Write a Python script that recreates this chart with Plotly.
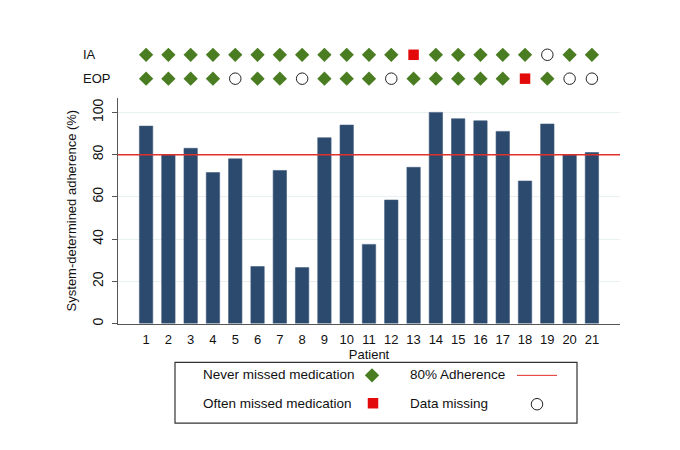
import plotly.graph_objects as go

# ---- data ----
patients = list(range(1, 22))
adherence = [93.5, 80, 83, 71.5, 78, 27, 72.5, 26.5, 88, 94, 37.5, 58.5, 74, 100,
             97, 96, 91, 67.5, 94.5, 80, 81]
threshold = 80
# N = never missed medication, O = often missed medication, M = data missing
ia_status = ["N"] * 12 + ["O"] + ["N"] * 5 + ["M"] + ["N"] * 2
eop_status = ["N", "N", "N", "N", "M", "N", "N", "M", "N", "N", "N", "M",
              "N", "N", "N", "N", "N", "O", "N", "M", "M"]
rows = ["EOP", "IA"]
x_ticks = patients
y_ticks = [0, 20, 40, 60, 80, 100]

W, H = 680, 450
OFF = 8  # page body margin
FONT = "Liberation Sans, Arial, sans-serif"
BAR = "#2c4a6e"
GREEN = "#4a7d22"
RED = "#e20a0a"
LINE_RED = "#e0302c"


def px(x):
    return (x - OFF) / W


def py(y):
    return 1 - (y - OFF) / H


fig = go.Figure()

# bars
fig.add_trace(go.Bar(x=patients, y=adherence, width=0.6,
                     marker=dict(color=BAR, line=dict(color="#3e5a7c", width=0.6)),
                     xaxis="x", yaxis="y", showlegend=False))

# threshold line
fig.add_trace(go.Scatter(x=[-0.26, 22.26], y=[threshold, threshold], mode="lines",
                         line=dict(color=LINE_RED, width=1.5),
                         xaxis="x", yaxis="y", showlegend=False))

# status rows
styles = {
    "N": dict(symbol="diamond", size=11, color=GREEN, line=dict(width=0)),
    "O": dict(symbol="square", size=10.5, color=RED, line=dict(width=0)),
    "M": dict(symbol="circle-open", size=11.5, color="#222222", line=dict(width=1)),
}
for code, st in styles.items():
    xs, ys = [], []
    for rname, stat in (("IA", ia_status), ("EOP", eop_status)):
        for p, s in zip(patients, stat):
            if s == code:
                xs.append(p)
                ys.append(rows.index(rname))
    fig.add_trace(go.Scatter(x=xs, y=ys, mode="markers", marker=st,
                             xaxis="x2", yaxis="y2", showlegend=False,
                             cliponaxis=False))

# legend symbols (pixel-coordinate overlay axis)
leg_sym = [("N", 372, 377), ("O", 373, 405), ("M", 537, 406)]
for code, lx, ly in leg_sym:
    fig.add_trace(go.Scatter(x=[lx - OFF], y=[ly - OFF], mode="markers",
                             marker=styles[code], xaxis="x3", yaxis="y3",
                             showlegend=False, cliponaxis=False))
fig.add_trace(go.Scatter(x=[517 - OFF, 557 - OFF], y=[377 - OFF, 377 - OFF],
                         mode="lines", line=dict(color=LINE_RED, width=1),
                         xaxis="x3", yaxis="y3", showlegend=False))

x_dom = [px(118), px(620)]
fig.update_layout(
    width=W, height=H,
    margin=dict(l=0, r=0, t=0, b=0),
    paper_bgcolor="white", plot_bgcolor="rgba(0,0,0,0)",
    font=dict(family=FONT, size=12, color="#111111"),
    bargap=0.4,
    xaxis=dict(domain=x_dom, range=[-0.26, 22.26], tickvals=x_ticks,
               ticks="", showgrid=False, zeroline=False,
               showline=True, linecolor="#555555", linewidth=1.2,
               tickfont=dict(size=13), ticklabelstandoff=4,
               title=dict(text="Patient", font=dict(size=13), standoff=3),
               anchor="y"),
    yaxis=dict(domain=[py(325), py(98)], range=[0, 107], tickvals=y_ticks,
               ticks="outside", ticklen=5, tickcolor="#555555", tickangle=-90,
               showgrid=True, gridcolor="#e9f0f1", gridwidth=1, zeroline=False,
               showline=True, linecolor="#555555", linewidth=1.2,
               tickfont=dict(size=14), ticklabelstandoff=3,
               title=dict(text="System-determined adherence (%)",
                          font=dict(size=13), standoff=10),
               anchor="x"),
    xaxis2=dict(domain=x_dom, range=[-0.26, 22.26], visible=False, anchor="y2"),
    yaxis2=dict(domain=[py(92), py(40)], range=[-0.542, 1.625], visible=False,
                anchor="x2"),
    xaxis3=dict(domain=[0, 1], range=[0, W], visible=False, anchor="y3"),
    yaxis3=dict(domain=[0, 1], range=[H, 0], visible=False, anchor="x3"),
)

# row labels
for rname, yy in (("IA", 55), ("EOP", 79)):
    fig.add_annotation(x=px(81), y=py(yy), xref="paper", yref="paper",
                       text=rname, showarrow=False, xanchor="left",
                       yanchor="middle", font=dict(size=13))

# legend box and text
fig.add_shape(type="rect", xref="paper", yref="paper",
              x0=px(175), x1=px(577), y0=py(425), y1=py(364),
              line=dict(color="#333333", width=1.2), fillcolor="rgba(0,0,0,0)")
for txt, lx, ly in (("Never missed medication", 201, 376),
                    ("Often missed medication", 201, 405),
                    ("80% Adherence", 408, 376),
                    ("Data missing", 408, 405)):
    fig.add_annotation(x=px(lx), y=py(ly), xref="paper", yref="paper",
                       text=txt, showarrow=False, xanchor="left",
                       yanchor="middle", font=dict(size=13.5))

fig.write_html("out.html")
